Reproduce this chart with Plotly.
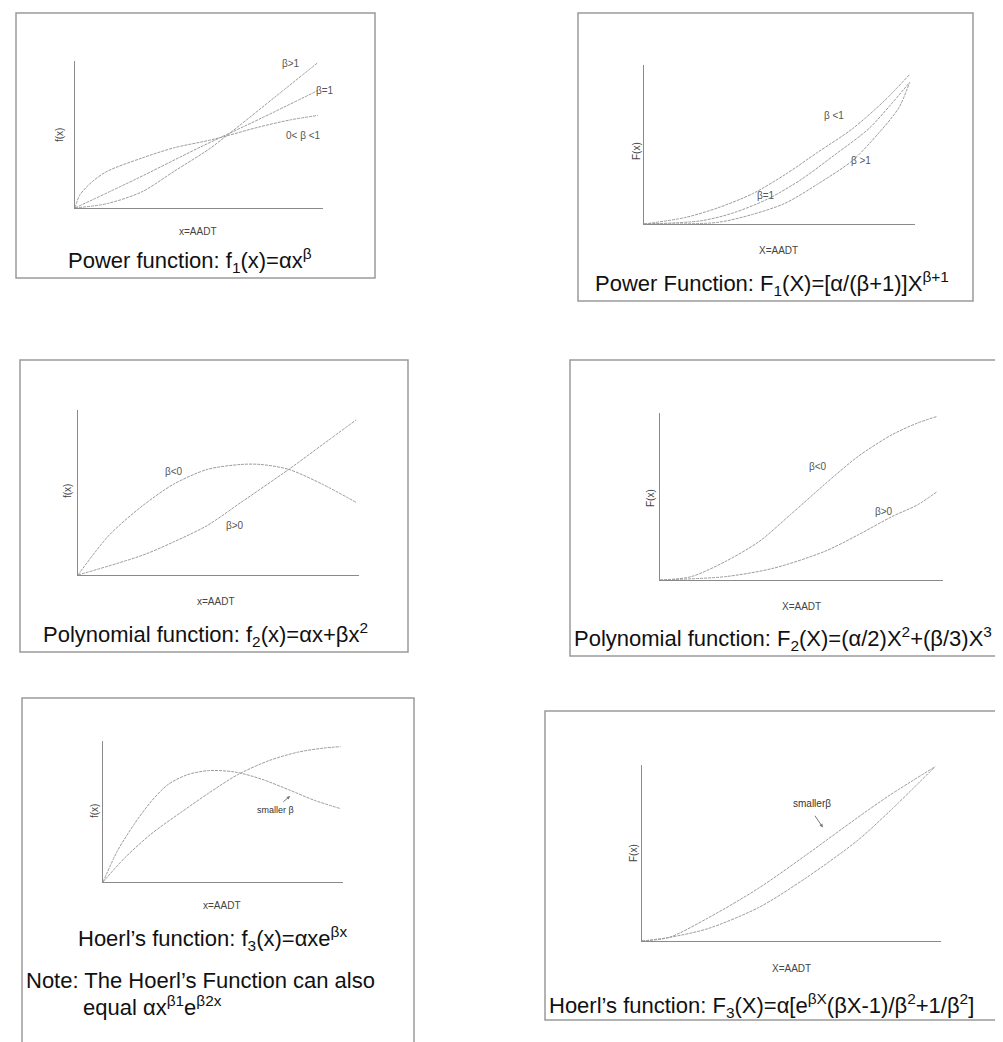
import plotly.graph_objects as go

W, H = 1003, 1042

# ---- curve data (normalized: x = fraction of axis length, y = fraction of axis height) ----
p1_x_bgt1 = [0, 0.13, 0.27, 0.40, 0.54, 0.61, 0.67, 0.81, 0.98]
p1_y_bgt1 = [0, 0.03, 0.11, 0.25, 0.40, 0.49, 0.57, 0.76, 0.99]
p1_x_beq1 = [0, 0.25, 0.50, 0.75, 0.98]
p1_y_beq1 = [0, 0.20, 0.41, 0.61, 0.80]
p1_x_blt1 = [0, 0.02, 0.07, 0.13, 0.27, 0.40, 0.54, 0.61, 0.74, 0.87, 0.98]
p1_y_blt1 = [0, 0.09, 0.18, 0.25, 0.34, 0.41, 0.46, 0.49, 0.55, 0.60, 0.63]

p2_x_blt1 = [0, 0.15, 0.27, 0.40, 0.52, 0.64, 0.77, 0.89, 0.98]
p2_y_blt1 = [0, 0.04, 0.10, 0.19, 0.31, 0.45, 0.60, 0.78, 0.94]
p2_x_beq1 = [0, 0.21, 0.33, 0.46, 0.58, 0.70, 0.83, 0.90, 0.98]
p2_y_beq1 = [0, 0.02, 0.07, 0.16, 0.28, 0.43, 0.60, 0.73, 0.89]
p2_x_bgt1 = [0, 0.27, 0.40, 0.52, 0.64, 0.77, 0.86, 0.94, 0.98]
p2_y_bgt1 = [0, 0.01, 0.06, 0.13, 0.25, 0.40, 0.56, 0.73, 0.89]

p3_x_blt0 = [0, 0.11, 0.23, 0.34, 0.46, 0.58, 0.65, 0.75, 0.87, 0.99]
p3_y_blt0 = [0, 0.24, 0.42, 0.55, 0.64, 0.67, 0.67, 0.64, 0.55, 0.44]
p3_x_bgt0 = [0, 0.23, 0.34, 0.46, 0.58, 0.75, 0.87, 0.99]
p3_y_bgt0 = [0, 0.12, 0.20, 0.30, 0.44, 0.64, 0.79, 0.94]

p4_x_blt0 = [0, 0.11, 0.23, 0.35, 0.46, 0.58, 0.70, 0.82, 0.91, 0.98]
p4_y_blt0 = [0, 0.02, 0.11, 0.23, 0.39, 0.57, 0.74, 0.87, 0.94, 0.98]
p4_x_bgt0 = [0, 0.23, 0.40, 0.58, 0.70, 0.82, 0.91, 0.98]
p4_y_bgt0 = [0, 0.02, 0.07, 0.17, 0.27, 0.38, 0.45, 0.53]

p5_x_a = [0, 0.06, 0.13, 0.20, 0.27, 0.35, 0.44, 0.55, 0.66, 0.78, 0.88, 0.99]
p5_y_a = [0, 0.22, 0.41, 0.57, 0.69, 0.76, 0.79, 0.78, 0.73, 0.65, 0.58, 0.52]
p5_x_b = [0, 0.09, 0.20, 0.33, 0.44, 0.56, 0.69, 0.81, 0.92, 0.99]
p5_y_b = [0, 0.17, 0.34, 0.50, 0.63, 0.76, 0.86, 0.92, 0.95, 0.96]

p6_x_up = [0, 0.09, 0.22, 0.39, 0.55, 0.72, 0.83, 0.98]
p6_y_up = [0, 0.02, 0.13, 0.30, 0.49, 0.70, 0.83, 0.99]
p6_x_lo = [0, 0.09, 0.22, 0.39, 0.55, 0.72, 0.83, 0.98]
p6_y_lo = [0, 0.02, 0.07, 0.19, 0.36, 0.57, 0.74, 0.99]

# ---- layout geometry (pixels) ----
axes_px = [  # left, right, top, bottom of plot axes
    (67, 315, 53, 200),
    (636, 907, 57, 216),
    (70, 351, 402, 567),
    (652, 935, 405, 572),
    (95, 335, 733, 874),
    (634, 933, 757, 933),
]
boxes_px = [
    (8, 367, 5, 270),
    (570, 965, 5, 293),
    (12, 400, 352, 644),
    (562, 1010, 352, 648),
    (14, 406, 690, 1050),
    (537, 1010, 703, 1012),
]

FONT = "Arial, Liberation Sans, sans-serif"
LINE_COL = "#9c9c9c"
AX_COL = "#8a8a8a"

fig = go.Figure()

def px_x(p):
    return p / W

def px_y(p):
    return 1 - p / H

layout_axes = {}
for i, (l, r, t, b) in enumerate(axes_px, start=1):
    sfx = "" if i == 1 else str(i)
    common = dict(range=[0, 1], showgrid=False, zeroline=False, showticklabels=False,
                  ticks="", showline=True, linecolor=AX_COL, linewidth=1, mirror=False,
                  fixedrange=True)
    layout_axes["xaxis" + sfx] = dict(domain=[px_x(l), px_x(r)], anchor="y" + sfx, **common)
    layout_axes["yaxis" + sfx] = dict(domain=[px_y(b), px_y(t)], anchor="x" + sfx, **common)

series = [
    (1, p1_x_bgt1, p1_y_bgt1), (1, p1_x_beq1, p1_y_beq1), (1, p1_x_blt1, p1_y_blt1),
    (2, p2_x_blt1, p2_y_blt1), (2, p2_x_beq1, p2_y_beq1), (2, p2_x_bgt1, p2_y_bgt1),
    (3, p3_x_blt0, p3_y_blt0), (3, p3_x_bgt0, p3_y_bgt0),
    (4, p4_x_blt0, p4_y_blt0), (4, p4_x_bgt0, p4_y_bgt0),
    (5, p5_x_a, p5_y_a), (5, p5_x_b, p5_y_b),
    (6, p6_x_up, p6_y_up), (6, p6_x_lo, p6_y_lo),
]
for k, xs, ys in series:
    sfx = "" if k == 1 else str(k)
    fig.add_trace(go.Scatter(x=xs, y=ys, mode="lines", xaxis="x" + sfx, yaxis="y" + sfx,
                             line=dict(color=LINE_COL, width=1, shape="spline", smoothing=0.8,
                                       dash="3px,1px"),
                             cliponaxis=False, showlegend=False, hoverinfo="skip"))

shapes = []
for (l, r, t, b) in boxes_px:
    shapes.append(dict(type="rect", xref="paper", yref="paper",
                       x0=px_x(l), x1=px_x(r), y0=px_y(b), y1=px_y(t),
                       line=dict(color="#9a9a9a", width=1.5), fillcolor="rgba(0,0,0,0)"))

ann = []

def txt(x, y, s, size, xanchor="center", color="#111", angle=0, yanchor="middle"):
    ann.append(dict(x=px_x(x), y=px_y(y), xref="paper", yref="paper", text=s,
                    showarrow=False, xanchor=xanchor, yanchor=yanchor, textangle=angle,
                    font=dict(family=FONT, size=size, color=color)))

def panel_paper(k, x, y):
    l, r, t, b = axes_px[k - 1]
    return px_x(l + x * (r - l)), px_y(b - y * (b - t))

def dtxt(k, x, y, s, size=10, color="#555"):
    X, Y = panel_paper(k, x, y)
    ann.append(dict(x=X, y=Y, xref="paper", yref="paper", text=s, showarrow=False,
                    xanchor="center", yanchor="middle",
                    font=dict(family=FONT, size=size, color=color)))

def arrow(k, x, y, ax, ay):
    sfx = "" if k == 1 else str(k)
    ann.append(dict(x=x, y=y, ax=ax, ay=ay, xref="x" + sfx, yref="y" + sfx,
                    axref="x" + sfx, ayref="y" + sfx, text="", showarrow=True,
                    arrowhead=2, arrowsize=0.7, arrowwidth=1, arrowcolor="#777"))

# axis titles
ylabels = [("f(x)", 52, 127), ("F(x)", 628, 143), ("f(x)", 59, 483),
           ("F(x)", 643, 490), ("f(x)", 86, 803), ("F(x)", 625, 845)]
for s, x, y in ylabels:
    txt(x, y, s, 10, color="#444", angle=-90)
xlabels = [("x=AADT", 190, 223), ("X=AADT", 770, 242), ("x=AADT", 208, 593),
           ("X=AADT", 793, 598), ("x=AADT", 214, 897), ("X=AADT", 783, 960)]
for s, x, y in xlabels:
    txt(x, y, s, 10, color="#444")

# captions
CAP = 22
txt(182, 253, "Power function: f<sub>1</sub>(x)=αx<sup>β</sup>", CAP)
txt(764, 275, "Power Function: F<sub>1</sub>(X)=[α/(β+1)]X<sup>β+1</sup>", CAP)
txt(197, 626, "Polynomial function: f<sub>2</sub>(x)=αx+βx<sup>2</sup>", CAP)
txt(564, 630, "Polynomial function: F<sub>2</sub>(X)=(α/2)X<sup>2</sup>+(β/3)X<sup>3</sup>", CAP, xanchor="left")
txt(204, 930, "Hoerl’s function: f<sub>3</sub>(x)=αxe<sup>βx</sup>", CAP)
txt(16, 972, "Note: The Hoerl’s Function can also", CAP, xanchor="left")
txt(73, 998, "equal αx<sup>β1</sup>e<sup>β2x</sup>", CAP, xanchor="left")
txt(539, 997, "Hoerl’s function: F<sub>3</sub>(X)=α[e<sup>βX</sup>(βX-1)/β<sup>2</sup>+1/β<sup>2</sup>]", CAP, xanchor="left")

# curve labels
dtxt(1, 0.87, 0.98, "β>1")
dtxt(1, 1.01, 0.80, "β=1")
dtxt(1, 0.92, 0.49, "0< β <1")
dtxt(2, 0.70, 0.68, "β <1")
dtxt(2, 0.80, 0.40, "β >1")
dtxt(2, 0.45, 0.18, "β=1")
dtxt(3, 0.34, 0.63, "β<0")
dtxt(3, 0.56, 0.30, "β>0")
dtxt(4, 0.56, 0.68, "β<0")
dtxt(4, 0.79, 0.41, "β>0")
dtxt(5, 0.72, 0.51, "smaller β", size=9, color="#333")
dtxt(6, 0.57, 0.78, "smallerβ", size=10, color="#333")

# arrows
arrow(5, 0.78, 0.61, 0.745, 0.56)
arrow(6, 0.605, 0.645, 0.575, 0.72)

fig.update_layout(width=W, height=H, margin=dict(l=0, r=0, t=0, b=0),
                  paper_bgcolor="white", plot_bgcolor="white",
                  shapes=shapes, annotations=ann, **layout_axes)

fig.write_html("out.html")
